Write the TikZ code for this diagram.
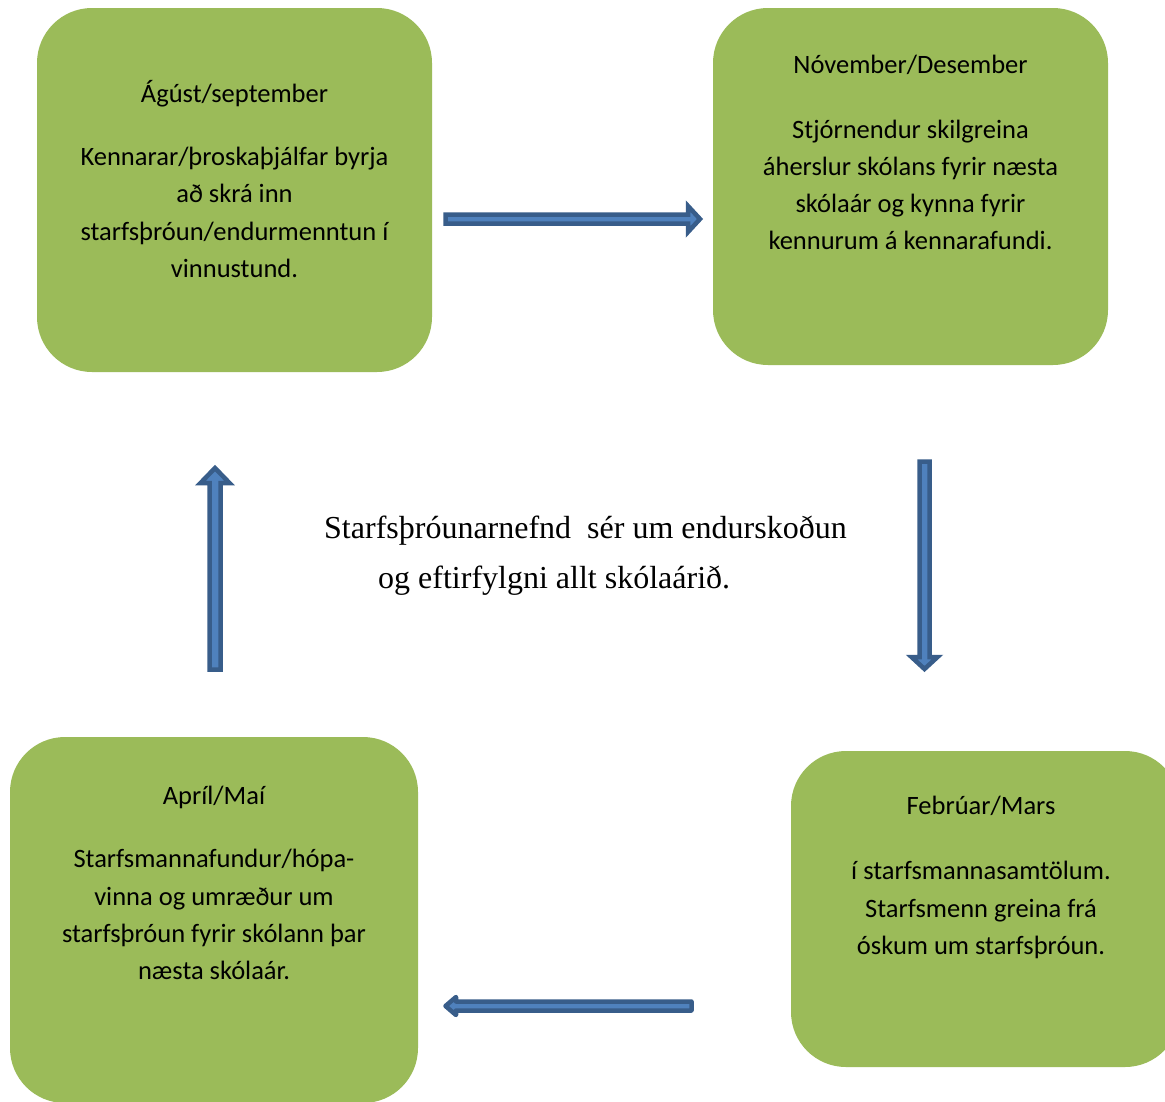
\documentclass[tikz,border=0pt]{standalone}
\usepackage{fontspec}
\setmainfont{Carlito}
\newfontfamily\timesf{Liberation Serif}
\definecolor{boxgreen}{HTML}{9BBB59}
\definecolor{arrfill}{HTML}{4F81BD}
\definecolor{arrline}{HTML}{385D8A}
\tikzset{
  greenbox/.style={fill=boxgreen, draw=none, rounded corners=55pt, inner sep=0pt},
  boxtext/.style={anchor=base, inner sep=0pt, font=\fontsize{26.5}{37}\selectfont},
  midtext/.style={anchor=base west, inner sep=0pt, font=\timesf\fontsize{32}{50}\selectfont},
  blockarrow/.style={fill=arrfill, draw=arrline, line width=4.5pt, line join=miter},
}
\begin{document}
\begin{tikzpicture}[x=1pt,y=-1pt]
\clip (0,0) rectangle (1165,1101);
\fill[white] (0,0) rectangle (1165,1101);

% boxes
\node[greenbox, minimum width=395pt, minimum height=364pt] (tl) at (234.5,190) {};
\node[greenbox, minimum width=395pt, minimum height=357pt] (tr) at (910.5,186.5) {};
\node[greenbox, minimum width=408pt, minimum height=366pt] (bl) at (214,920) {};
\node[greenbox, minimum width=389pt, minimum height=316pt] (br) at (985.5,909) {};

% top-left text
\node[boxtext] (tl0) at (234.5,102) {Ágúst/september};
\node[boxtext] (tl1) at (234.5,165) {Kennarar/þroskaþjálfar byrja};
\node[boxtext] (tl2) at (234.5,202.5) {að skrá inn};
\node[boxtext] (tl3) at (234.5,240) {starfsþróun/endurmenntun í};
\node[boxtext] (tl4) at (234.5,277.5) {vinnustund.};

% top-right text
\node[boxtext] (tr0) at (910.5,73) {Nóvember/Desember};
\node[boxtext] (tr1) at (910.5,138) {Stjórnendur skilgreina};
\node[boxtext] (tr2) at (910.5,175) {áherslur skólans fyrir næsta};
\node[boxtext] (tr3) at (910.5,212) {skólaár og kynna fyrir};
\node[boxtext] (tr4) at (910.5,249) {kennurum á kennarafundi.};

% bottom-left text
\node[boxtext] (bl0) at (214,804) {Apríl/Maí};
\node[boxtext] (bl1) at (214,867) {Starfsmannafundur/hópa-};
\node[boxtext] (bl2) at (214,905) {vinna og umræður um};
\node[boxtext] (bl3) at (214,942) {starfsþróun fyrir skólann þar};
\node[boxtext] (bl4) at (214,979) {næsta skólaár.};

% bottom-right text
\node[boxtext] (br0) at (981,814) {Febrúar/Mars};
\node[boxtext] (br1) at (981,879) {í starfsmannasamtölum.};
\node[boxtext] (br2) at (981,917) {Starfsmenn greina frá};
\node[boxtext] (br3) at (981,954) {óskum um starfsþróun.};

% centre text
\node[midtext] (mid1) at (324,538) {Starfsþróunarnefnd\ \ sér um endurskoðun};
\node[midtext] (mid2) at (378,588) {og eftirfylgni allt skólaárið.};

% block arrows
\draw[blockarrow] (445.5,214.5) -- (688,214.5) -- (688,206) -- (700,219) -- (688,232) -- (688,223.5) -- (445.5,223.5) -- cycle;
\draw[blockarrow] (919.5,461.5) -- (929.5,461.5) -- (929.5,657) -- (937.5,657) -- (924.5,669) -- (911.5,657) -- (919.5,657) -- cycle;
\draw[blockarrow] (209.5,669.5) -- (209.5,483) -- (200.5,483) -- (215,468) -- (229.5,483) -- (220.5,483) -- (220.5,669.5) -- cycle;
\draw[blockarrow, line join=round] (691.5,1001.5) -- (456,1001.5) -- (456,997) -- (445.5,1006) -- (456,1015) -- (456,1010.5) -- (691.5,1010.5) -- cycle;
\end{tikzpicture}
\end{document}
